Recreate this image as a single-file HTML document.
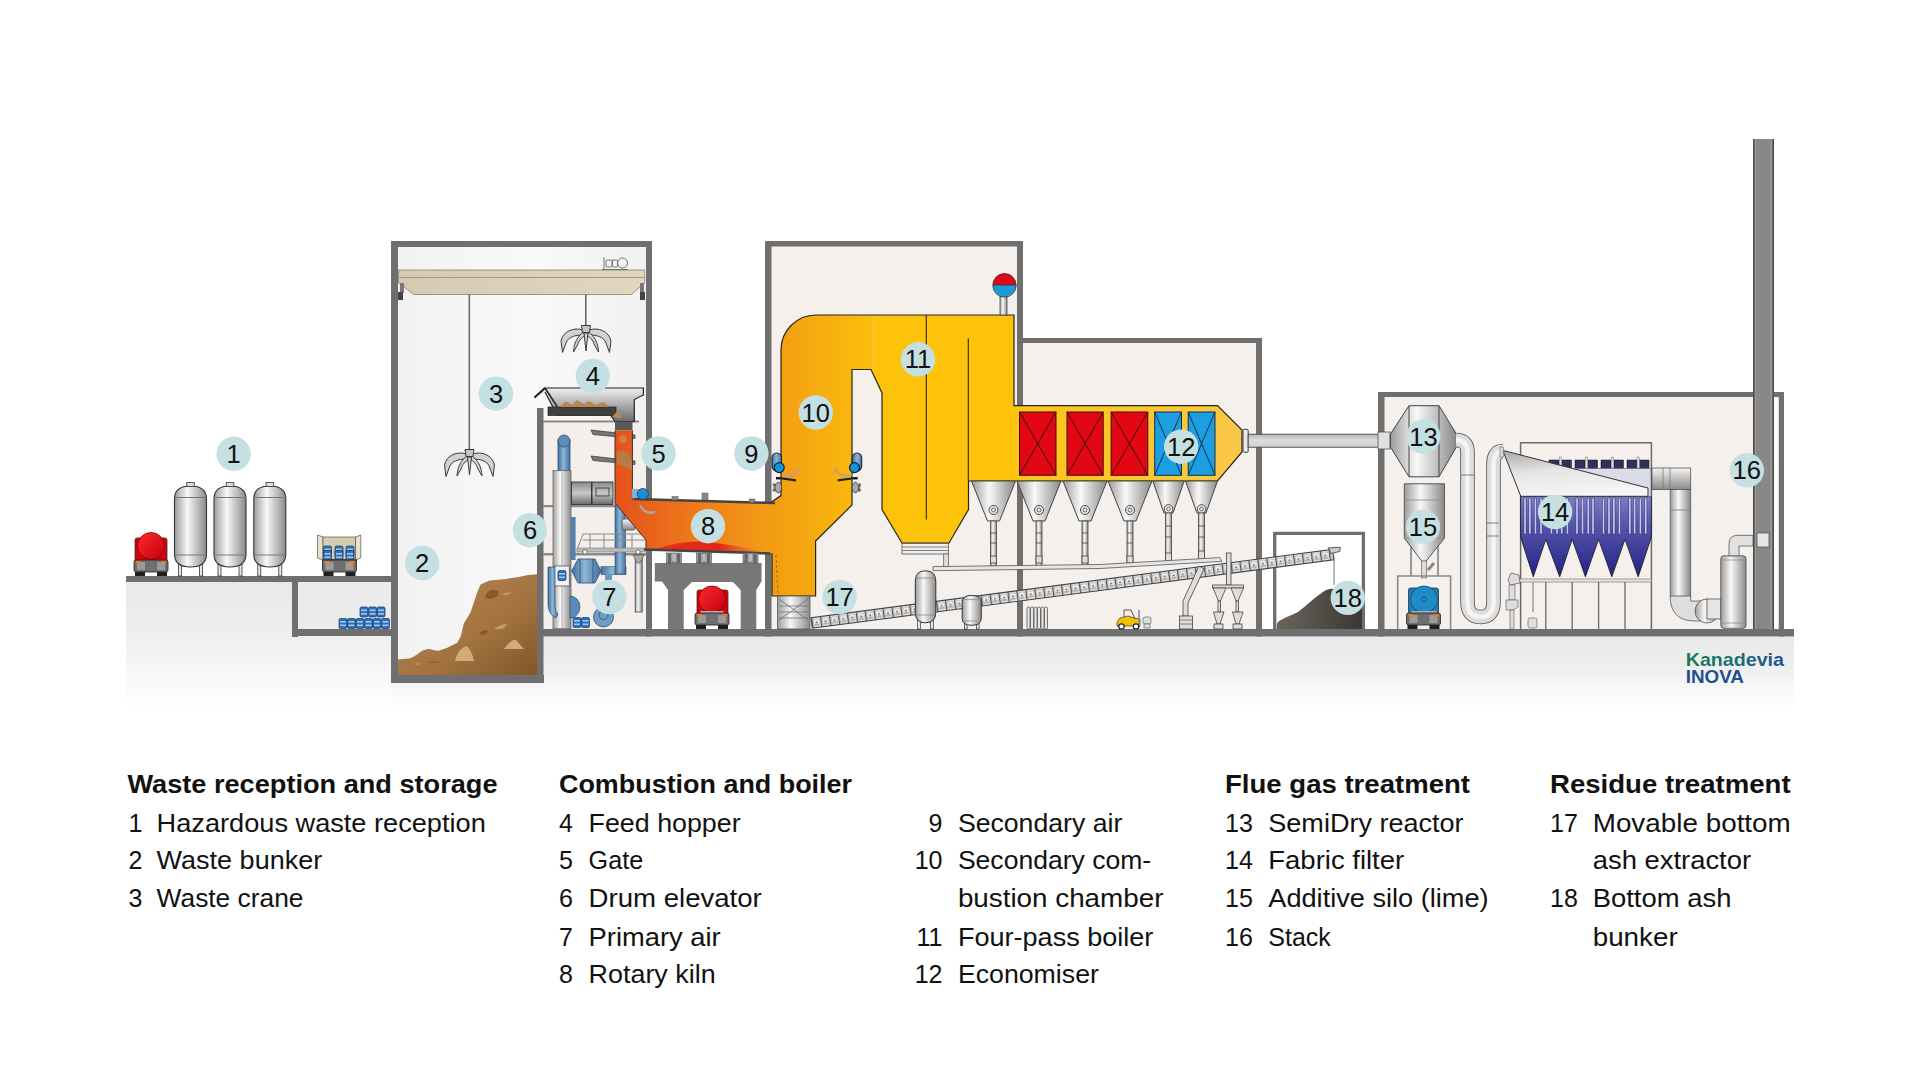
<!DOCTYPE html>
<html><head><meta charset="utf-8">
<style>
html,body{margin:0;padding:0;background:#fff;width:1920px;height:1080px;overflow:hidden}
svg{display:block}
text{font-family:"Liberation Sans",sans-serif;fill:#111}
.b{font-size:25px}
.t{font-size:25px;font-weight:bold}
</style></head><body>
<svg width="1920" height="1080" viewBox="0 0 1920 1080">
<defs>
<linearGradient id="gnd" x1="0" y1="0" x2="0" y2="1">
<stop offset="0" stop-color="#e9e9e9"/><stop offset="0.4" stop-color="#eeeeee"/><stop offset="1" stop-color="#ffffff"/>
</linearGradient>
<linearGradient id="bunk" x1="0" y1="0" x2="1" y2="0">
<stop offset="0" stop-color="#f2f2f2"/><stop offset="0.55" stop-color="#f9f9f9"/><stop offset="1" stop-color="#f1f1f1"/>
</linearGradient>
<linearGradient id="kiln" x1="0" y1="0" x2="1" y2="0">
<stop offset="0" stop-color="#e6501b"/><stop offset="0.5" stop-color="#ee7a1a"/><stop offset="1" stop-color="#f39e16"/>
</linearGradient>
<linearGradient id="glow" x1="0" y1="0" x2="0" y2="1">
<stop offset="0" stop-color="#f07020" stop-opacity="0"/><stop offset="1" stop-color="#e02a1a"/>
</linearGradient>
<linearGradient id="pass1" x1="0" y1="0" x2="1" y2="0">
<stop offset="0" stop-color="#f29b13"/><stop offset="1" stop-color="#fbbf0c"/>
</linearGradient>
<linearGradient id="metal" x1="0" y1="0" x2="1" y2="0">
<stop offset="0" stop-color="#9c9c9c"/><stop offset="0.4" stop-color="#f8f8f8"/><stop offset="1" stop-color="#8a8a8a"/>
</linearGradient>
<linearGradient id="metalv" x1="0" y1="0" x2="0" y2="1">
<stop offset="0" stop-color="#f4f4f4"/><stop offset="1" stop-color="#8a8a8a"/>
</linearGradient>
<linearGradient id="hopg" x1="0" y1="0" x2="0" y2="1">
<stop offset="0" stop-color="#f0f0f0"/><stop offset="1" stop-color="#6a6a6a"/>
</linearGradient>
<linearGradient id="filt" x1="0" y1="0" x2="0" y2="1">
<stop offset="0" stop-color="#7d7dc6"/><stop offset="0.35" stop-color="#5656aa"/><stop offset="1" stop-color="#22228a"/>
</linearGradient>
<linearGradient id="pile" x1="0" y1="0" x2="1" y2="1">
<stop offset="0" stop-color="#b88852"/><stop offset="0.6" stop-color="#a2733f"/><stop offset="1" stop-color="#825628"/>
</linearGradient>
<linearGradient id="ash" x1="0" y1="0" x2="1" y2="0">
<stop offset="0" stop-color="#6b655e"/><stop offset="1" stop-color="#3c3732"/>
</linearGradient>
<linearGradient id="beam" x1="0" y1="0" x2="1" y2="0">
<stop offset="0" stop-color="#d6cab3"/><stop offset="1" stop-color="#e2d6bf"/>
</linearGradient>
<linearGradient id="bluep" x1="0" y1="0" x2="1" y2="0">
<stop offset="0" stop-color="#3f6f9c"/><stop offset="0.45" stop-color="#8fb5d6"/><stop offset="1" stop-color="#40709d"/>
</linearGradient>
<linearGradient id="redt" x1="0" y1="0" x2="1" y2="1">
<stop offset="0" stop-color="#ff2a2a"/><stop offset="1" stop-color="#c00010"/>
</linearGradient>
<linearGradient id="logo" x1="0" y1="0" x2="1" y2="0">
<stop offset="0" stop-color="#177b55"/><stop offset="0.55" stop-color="#1a6d7a"/><stop offset="1" stop-color="#1d4f93"/>
</linearGradient>
<linearGradient id="econ" x1="0" y1="0" x2="1" y2="0"><stop offset="0" stop-color="#fcc414"/><stop offset="1" stop-color="#fac84a"/></linearGradient>
<pattern id="conv" x="0" y="0" width="9" height="10.5" patternUnits="userSpaceOnUse">
<rect width="9" height="10.5" fill="#e9e9e9"/>
<rect x="0" y="0" width="1.3" height="10.5" fill="#555"/>
<rect x="2" y="2" width="6" height="6.5" fill="#f8f8f8" stroke="#888" stroke-width="0.5"/>
<path d="M3.5 6 L5 3.5 L6.5 6 Z" fill="#666"/>
<rect x="3" y="7" width="4" height="0.8" fill="#777"/>
</pattern>
<linearGradient id="hood" x1="0" y1="0" x2="0.3" y2="1"><stop offset="0" stop-color="#a8a8a8"/><stop offset="0.5" stop-color="#e6e6e6"/><stop offset="1" stop-color="#f4f4f4"/></linearGradient>
<linearGradient id="darkm" x1="0" y1="0" x2="0" y2="1"><stop offset="0" stop-color="#8a8a8a"/><stop offset="0.5" stop-color="#c8c8c8"/><stop offset="1" stop-color="#6a6a6a"/></linearGradient>
<linearGradient id="glowh" x1="652" y1="0" x2="772" y2="0" gradientUnits="userSpaceOnUse"><stop offset="0" stop-color="#e4301a"/><stop offset="0.55" stop-color="#e2261a"/><stop offset="0.8" stop-color="#e06a30" stop-opacity="0.7"/><stop offset="1" stop-color="#f0a020" stop-opacity="0"/></linearGradient>
<linearGradient id="duct" x1="0" y1="0" x2="0" y2="1"><stop offset="0" stop-color="#b5b5b5"/><stop offset="0.45" stop-color="#dcdcdc"/><stop offset="1" stop-color="#d2d2d2"/></linearGradient>
<g id="drum">
<rect x="0" y="0" width="8" height="10" rx="1.5" fill="#2f6fb8" stroke="#173a66" stroke-width="0.7"/>
<rect x="1" y="2.5" width="6" height="1.6" fill="#9cc8f0"/>
<rect x="1" y="6" width="6" height="1.6" fill="#9cc8f0"/>
</g>
<g id="tank">
<rect x="-12" y="78" width="3" height="12" fill="#e8e8e8" stroke="#333" stroke-width="0.8"/>
<rect x="9" y="78" width="3" height="12" fill="#e8e8e8" stroke="#333" stroke-width="0.8"/>
<path d="M-16 13 Q-16 0 0 0 Q16 0 16 13 V68 Q16 81 0 81 Q-16 81 -16 68 Z" fill="url(#metal)" stroke="#333" stroke-width="1.1"/>
<line x1="-16" y1="11.5" x2="16" y2="11.5" stroke="#777" stroke-width="1"/>
<line x1="-16" y1="69" x2="16" y2="69" stroke="#777" stroke-width="1"/>
<path d="M-4 -3.5 H4 L3.5 0.5 H-3.5 Z" fill="#ddd" stroke="#333" stroke-width="0.8"/>
</g>
<g id="truckbase">
<rect x="-17" y="-4" width="34" height="12" rx="2" fill="#6f6f6f" stroke="#222" stroke-width="0.8"/>
<rect x="-14" y="-2" width="8" height="8" fill="#9a9a9a"/>
<rect x="6" y="-2" width="8" height="8" fill="#9a9a9a"/>
<rect x="-15" y="-3" width="5" height="2.5" fill="#f07a20"/>
<rect x="10" y="-3" width="5" height="2.5" fill="#f07a20"/>
<rect x="-16" y="8" width="10" height="4" fill="#1f1f1f"/>
<rect x="6" y="8" width="10" height="4" fill="#1f1f1f"/>
</g>
<g id="hopper">
<path d="M-22 0 H22 L6 40 H-6 Z" fill="url(#metal)" stroke="#444" stroke-width="1"/>
<circle cx="0" cy="29" r="4.5" fill="#eee" stroke="#444" stroke-width="1"/>
<circle cx="0" cy="29" r="2" fill="none" stroke="#444" stroke-width="0.8"/>
<rect x="-3" y="40" width="6" height="45" fill="url(#metal)" stroke="#444" stroke-width="0.8"/>
<line x1="-3" y1="52" x2="3" y2="52" stroke="#444" stroke-width="0.8"/>
<line x1="-3" y1="62" x2="3" y2="62" stroke="#444" stroke-width="0.8"/>
<rect x="-3" y="75" width="6" height="7" fill="#ddd" stroke="#444" stroke-width="0.8"/>
</g>
</defs>

<!-- ground fill -->
<rect x="126" y="582" width="266" height="126" fill="url(#gnd)"/>
<rect x="392" y="637" width="1402" height="71" fill="url(#gnd)" />
<rect x="298" y="582" width="94" height="47" fill="#ebebeb"/>

<!-- interiors -->
<path d="M397 247 H646 V421 H537 V675 H397 Z" fill="url(#bunk)"/>
<rect x="543" y="420" width="103" height="209" fill="#f5efeb"/>
<rect x="771" y="246" width="246" height="383" fill="#f5f0ec"/>
<rect x="1023" y="343" width="233" height="286" fill="#f5f0ec"/>
<rect x="1384" y="397" width="394" height="232" fill="#f5f0ec"/>

<!-- bunker pile -->
<path d="M397.5 659.4 L410.6 658.3 L417.2 654.4 C421 651 425 649 428.3 648.9 C432 649 436 651 439.4 650.6 L447.2 647.8 L457.2 642.8 L460.6 636.7 L463.9 623.3 L470.6 612.2 L473.9 602.2 L477.2 592.2 L480.6 584.4 L489.4 580.6 L506.1 578.9 L517.2 577.2 L528.3 575 L537.5 574.2 V675.5 H397.5 Z" fill="url(#pile)"/>
<path d="M485 598 C486 591 492 588 498 591 C500 595 496 598 490 599 Z" fill="#8a5828"/>
<path d="M500 594 L512 592 L507 595 Z" fill="#c9a070"/>
<path d="M455 661 C457 652 462 647 467 646 C471 650 473 656 474 661 Z" fill="#d3aa78"/>
<path d="M504 649 C508 643 513 639 516 640 C519 643 522 647 524 649 Z" fill="#d3aa78"/>
<path d="M494 629 C499 625 506 623 507 625 L503 629 Z" fill="#c49a6a"/>
<path d="M479 634 C482 630 486 629 488 632 L484 635 Z" fill="#8a5828"/>
<path d="M428 663 C432 660 437 660 440 663 Z" fill="#8f6035"/>
<path d="M415 664 L420 663 L418 665 Z" fill="#caa070"/>
<!-- walls -->
<g fill="#6f6f6f">
<rect x="126" y="576" width="272" height="6"/>
<rect x="292" y="576" width="6" height="61"/>
<rect x="292" y="629" width="106" height="7"/>
<rect x="391" y="241" width="261" height="6"/>
<rect x="391" y="241" width="7" height="442"/>
<rect x="391" y="675" width="153" height="8"/>
<rect x="646" y="241" width="6" height="395.5"/>
<rect x="537" y="408" width="6.5" height="275"/>
<rect x="543" y="629" width="1251" height="7.5"/>
<rect x="765" y="241" width="258" height="5.5"/>
<rect x="765" y="241" width="6.5" height="395.5"/>
<rect x="1017" y="241" width="6" height="395.5"/>
<rect x="1017" y="338" width="245" height="5"/>
<rect x="1256" y="338" width="6" height="298.5"/>
<rect x="1378" y="392" width="406" height="5"/>
<rect x="1378" y="392" width="6.5" height="244.5"/>
<rect x="1778.5" y="392" width="5.5" height="244.5"/>
</g>
<path d="M1274.7 630 V533.3 H1363.4 V630" fill="none" stroke="#6f6f6f" stroke-width="3.3"/>
<!-- shelves in feed area -->
<rect x="543" y="420.5" width="96" height="2" fill="#8a8a8a"/>
<rect x="543" y="505" width="72" height="2.2" fill="#8a8a8a"/>
<rect x="543" y="553" width="103" height="2.5" fill="#8a8a8a"/>

<!-- stack -->
<rect x="1774" y="397" width="4.5" height="232" fill="#ffffff"/>
<rect x="1753" y="139" width="21" height="490" fill="#888888"/>
<rect x="1753" y="139" width="1.8" height="490" fill="#4d4d4d"/>
<rect x="1772.2" y="139" width="1.8" height="490" fill="#4d4d4d"/>
<rect x="1754.8" y="139" width="1.2" height="490" fill="#9a9a9a"/>
<rect x="1770.6" y="139" width="1.6" height="490" fill="#9c9c9c"/>

<!-- left exterior: red truck -->
<g>
<rect x="135" y="538" width="32" height="29" rx="2" fill="#d40010" stroke="#333" stroke-width="0.8"/>
<circle cx="151" cy="546" r="13.5" fill="url(#redt)" stroke="#8a0000" stroke-width="0.8"/>
<path d="M139 560 H163 L160 568 H142 Z" fill="#b0b0b0"/>
<use href="#truckbase" x="151" y="564"/>
</g>
<!-- tanks -->
<use href="#tank" x="190.5" y="486"/>
<use href="#tank" x="230" y="486"/>
<use href="#tank" x="269.8" y="486"/>
<!-- beige truck -->
<g>
<path d="M317.5 535 L323 537 V560 L317.5 558 Z" fill="#e8e0cc" stroke="#555" stroke-width="0.7"/>
<path d="M360.8 535 L355.5 537 V560 L360.8 558 Z" fill="#e8e0cc" stroke="#555" stroke-width="0.7"/>
<rect x="323" y="537" width="32.5" height="23" fill="#d8ccb0" stroke="#555" stroke-width="0.7"/>
<use href="#drum" x="323.5" y="546"/>
<use href="#drum" x="335" y="546"/>
<use href="#drum" x="346" y="546"/>
<use href="#drum" x="323.5" y="550.5"/>
<use href="#drum" x="335" y="550.5"/>
<use href="#drum" x="346" y="550.5"/>
<rect x="322" y="559" width="35" height="3" fill="#555"/>
<use href="#truckbase" x="339.5" y="564"/>
</g>
<!-- pit drums -->
<g>
<use href="#drum" x="339" y="618.5"/><use href="#drum" x="347.5" y="618.5"/><use href="#drum" x="356" y="618.5"/>
<use href="#drum" x="364.5" y="618.5"/><use href="#drum" x="373" y="618.5"/><use href="#drum" x="381.5" y="618.5"/>
<use href="#drum" x="360" y="607"/><use href="#drum" x="368.5" y="607"/><use href="#drum" x="377" y="607"/>
</g>

<!-- crane -->
<g>
<path d="M398.5 270 H644.7 V283 L631.5 294.5 H414 L398.5 283 Z" fill="url(#beam)" stroke="#8a8070" stroke-width="0.8"/>
<line x1="398.5" y1="277.5" x2="644.7" y2="277.5" stroke="#a39882" stroke-width="1"/>
<g fill="none" stroke="#666" stroke-width="0.9">
<path d="M604 257 V269"/>
<rect x="606" y="260" width="6" height="7" rx="1"/>
<rect x="612.5" y="260" width="5" height="7" rx="1"/>
<circle cx="622.5" cy="263" r="5"/>
<path d="M602 269.5 H628"/>
</g>
<rect x="400" y="283" width="4" height="10" fill="#777"/>
<rect x="398" y="292" width="5" height="8" fill="#444"/>
<rect x="640" y="283" width="4" height="10" fill="#777"/>
<rect x="640" y="292" width="5" height="8" fill="#444"/>
<line x1="469.3" y1="294.5" x2="469.3" y2="450" stroke="#6a6a6a" stroke-width="1.6"/>
<line x1="585.8" y1="294.5" x2="585.8" y2="326" stroke="#6a6a6a" stroke-width="1.6"/>
</g>
<g id="grab1" fill="#d2d2d2" stroke="#3a3a3a" stroke-width="1" stroke-linejoin="round">
<path d="M583 330 C574 327 563 331 561 341 L562.5 352.5 L566 343 C568 337 575 335 583 335 Z"/>
<path d="M589 330 C598 327 609 331 611 341 L609.5 352.5 L606 343 C604 337 597 335 589 335 Z"/>
<path d="M583.5 332 C578 336 574 342 573.5 352 L577.5 345 C579 340 582 337 585 336 Z"/>
<path d="M588.5 332 C594 336 598 342 598.5 352 L594.5 345 C593 340 590 337 587 336 Z"/>
<path d="M584 333 H588 L586 351 Z"/>
<path d="M581.5 325.5 H590.5 L589.5 332.5 H582.5 Z" fill="#c4c4c4"/>
</g>
<use href="#grab1" x="-116.5" y="124"/>

<!-- hopper & grate -->
<g>
<path d="M534.5 397.5 L545 388 H643.4 V395 L634.3 399.5 V421.5 H615 L610.4 415 H557 L545 392" fill="url(#hopg)" stroke="#222" stroke-width="1.2"/>
<path d="M545 388 L557.2 406.6" stroke="#222" stroke-width="1.6" fill="none"/>
<path d="M534.5 397.5 L545 388" stroke="#222" stroke-width="2" fill="none"/>
<rect x="548" y="407" width="68" height="8.5" fill="#3f3f3f" stroke="#222" stroke-width="0.7"/>
<path d="M560 407 L566 401 L572 405 L577 400 L584 404 L589 401 L596 405 L603 402 L610 407 Z" fill="#b8864f"/>
<path d="M612 417 L618 410 L622 418 Z" fill="#b8864f"/>
<rect x="615" y="421.5" width="17.5" height="9" fill="#5a5a5a"/>
</g>

<!-- feed area machinery -->
<g>
<!-- blue pipe top -->
<rect x="558" y="440" width="12" height="31" fill="url(#bluep)" stroke="#2a4f73" stroke-width="0.8"/>
<circle cx="564" cy="441" r="6" fill="#5c8cb8" stroke="#2a4f73" stroke-width="0.8"/>
<!-- drum elevator column -->
<rect x="553" y="470.7" width="18" height="158" fill="url(#metal)" stroke="#666" stroke-width="0.8"/>
<line x1="562" y1="472" x2="562" y2="628" stroke="#aaa" stroke-width="0.8"/>
<rect x="554.3" y="566" width="15" height="20" fill="#f2f2f2" stroke="#555" stroke-width="0.8"/>
<use href="#drum" x="558" y="570.5"/>
<!-- gray machine -->
<rect x="571.5" y="482" width="20" height="22.5" fill="url(#darkm)" stroke="#222" stroke-width="0.8"/>
<rect x="592" y="482" width="21" height="22.5" fill="url(#darkm)" stroke="#222" stroke-width="0.8"/>
<rect x="596" y="488" width="13" height="8" fill="none" stroke="#333" stroke-width="0.8"/>
<!-- blue pipes -->
<path d="M548 567 H555 V606 Q555 612 558 614 L556 618 Q548 614 548 604 Z" fill="url(#bluep)" stroke="#2a4f73" stroke-width="0.7"/>
<path d="M570 596 A10 11 0 0 1 570 618 Z" fill="#5a8ab8" stroke="#2a4f73" stroke-width="0.7"/>
<rect x="571" y="517" width="4.6" height="43" fill="#5283b0"/>
<path d="M571.7 571 L578 559 H595 L601 571 L595 583 H578 Z" fill="url(#bluep)" stroke="#2a4f73" stroke-width="0.8"/>
<line x1="580" y1="559" x2="580" y2="583" stroke="#2a4f73" stroke-width="0.8"/>
<line x1="593" y1="559" x2="593" y2="583" stroke="#2a4f73" stroke-width="0.8"/>
<rect x="601" y="566.7" width="25" height="7.8" fill="url(#bluep)" stroke="#2a4f73" stroke-width="0.6"/>
<rect x="615" y="504" width="10.5" height="70" fill="url(#bluep)" stroke="#2a4f73" stroke-width="0.6"/>
<rect x="605" y="574" width="7" height="8" fill="#6a96c0"/>
<circle cx="603.5" cy="617" r="10" fill="#6d9cc6" stroke="#2a4f73" stroke-width="0.8"/>
<circle cx="603.5" cy="615" r="4.5" fill="none" stroke="#2a4f73" stroke-width="0.8"/>
<circle cx="582" cy="577" r="12" fill="none"/>

<use href="#drum" x="573" y="617.5"/><use href="#drum" x="581.5" y="617.5"/>
<!-- railing platform -->
<g stroke="#8a8a8a" stroke-width="1" fill="none">
<path d="M577 550 L583 534 H645"/>
<line x1="583" y1="540" x2="645" y2="540"/>
<line x1="590" y1="534" x2="590" y2="550"/>
<line x1="604" y1="534" x2="604" y2="550"/>
<line x1="618" y1="534" x2="618" y2="550"/>
<line x1="632" y1="534" x2="632" y2="550"/>
</g>
<rect x="577" y="548" width="68" height="4" fill="#bbb" stroke="#777" stroke-width="0.6"/>
<circle cx="585" cy="552" r="2.2" fill="#fff" stroke="#555" stroke-width="0.8"/>
<circle cx="638" cy="552" r="2.2" fill="#fff" stroke="#555" stroke-width="0.8"/>
<!-- motor -->
<rect x="622" y="519" width="13" height="11" rx="2" fill="url(#metalv)" stroke="#444" stroke-width="0.8"/>
<!-- gray vertical pipe right -->
<rect x="635.2" y="555" width="7" height="57" fill="url(#metal)" stroke="#444" stroke-width="0.8"/>
<path d="M633 555 H644 L640 563 H637 Z" fill="#aaa" stroke="#444" stroke-width="0.6"/>
<!-- gate arms -->
<path d="M591 430 L635 435 L635 438.5 L593 434.5 Z" fill="#777" stroke="#333" stroke-width="0.7"/>
<path d="M591 456 L635 461 L635 464.5 L593 460.5 Z" fill="#777" stroke="#333" stroke-width="0.7"/>
</g>

<!-- boiler main shape -->
<path id="boilp" d="M781 350 A35 35 0 0 1 816 315 H1014 V405.6 H1217.5 L1242 430 V452 L1217.5 481 H968.5 V509.5 L949 543 H902 L882 509.5 V393 L871 369.5 H852 V505 L815.6 541 V596 H772 V553 H770 V503 L781 495.6 Z" fill="#fcc30a"/>
<path d="M781 350 A35 35 0 0 1 816 315 H873 V369.5 H852 V505 L815.6 541 V596 H772 V553 H770 V503 L781 495.6 Z" fill="url(#pass1)"/>
<path d="M1014.5 406.1 H1217.5 L1241.5 430.2 V451.8 L1217.5 480.5 H1014.5 Z" fill="url(#econ)"/>
<line x1="873" y1="315.5" x2="873" y2="369" stroke="#f8c85a" stroke-width="0.8"/>
<path d="M781 350 A35 35 0 0 1 816 315 H1014 V405.6 H1217.5 L1242 430 V452 L1217.5 481 H968.5 V509.5 L949 543 H902 L882 509.5 V393 L871 369.5 H852 V505 L815.6 541 V596 H772 V553 M770 503 L781 495.6 V350" fill="none" stroke="#262618" stroke-width="1.2"/>
<line x1="926.3" y1="315" x2="926.3" y2="519.6" stroke="#262618" stroke-width="1.1"/>
<line x1="968.3" y1="338.6" x2="968.3" y2="481" stroke="#262618" stroke-width="1.1"/>
<!-- steam drum -->
<rect x="1000" y="296" width="7" height="19" fill="url(#metal)" stroke="#444" stroke-width="0.8"/>
<path d="M992.8 285 A11.7 11.7 0 0 1 1016.2 285 Z" fill="#e30613"/>
<path d="M992.8 285 A11.7 11.7 0 0 0 1016.2 285 Z" fill="#1a9ad6"/>
<circle cx="1004.5" cy="285.5" r="11.7" fill="none" stroke="#333" stroke-width="0.8"/>
<line x1="992.8" y1="285" x2="1016.2" y2="285" stroke="#333" stroke-width="0.8"/>

<!-- kiln -->
<path d="M615 430.5 H632.4 V499 L772 503 V553 L646 549.5 V540 L615 503 Z" fill="url(#kiln)"/>
<path d="M652 550 Q690 538 715 543 Q740 546 772 553 Z" fill="url(#glowh)"/>
<path d="M632.4 430.5 V499 L766 503 M615 430.5 V503 L646 540 V549.5 L770 553" fill="none" stroke="#333" stroke-width="1"/>
<path d="M634 499 L775 503" stroke="#444" stroke-width="2.6"/>
<path d="M644 549.5 L770 553.5" stroke="#444" stroke-width="2.4"/>
<rect x="672" y="496.5" width="6" height="3.5" fill="#888" stroke="#555" stroke-width="0.5"/>
<rect x="702" y="493" width="6" height="7" fill="#888" stroke="#555" stroke-width="0.5"/>
<rect x="749" y="499" width="6" height="3.5" fill="#888" stroke="#555" stroke-width="0.5"/>
<!-- brown waste in chute -->
<path d="M617 452 C624 448 630 452 632 462 L632 470 L617 464 Z" fill="#b08050" opacity="0.85"/>
<circle cx="623" cy="439" r="4" fill="#c9905a" opacity="0.7"/>
<!-- primary air valve -->
<rect x="632" y="489" width="10" height="9" fill="#7fb0d8"/>
<circle cx="642.8" cy="494" r="5.5" fill="#1a8fd6" stroke="#1a3d66" stroke-width="0.8"/>
<path d="M640 505 Q645 515 655 512" fill="none" stroke="#9ab8b8" stroke-width="2.4" opacity="0.8"/>

<!-- kiln support -->
<g fill="#777777">
<path d="M654.8 563 H761.5 V581.5 L756.3 590 V629 H740.7 V590 L733 582 H692 L683.7 590 V629 H668 V590 L662 581.5 H654.8 Z"/>
<rect x="666.5" y="553" width="15" height="10" fill="#9a9a9a" stroke="#555" stroke-width="0.6"/><rect x="668.0" y="553.5" width="3" height="9.5" fill="#666"/><rect x="677.0" y="553.5" width="3" height="9.5" fill="#666"/><rect x="672.5" y="554" width="3" height="7" fill="#bbb"/><rect x="696.5" y="553" width="15" height="10" fill="#9a9a9a" stroke="#555" stroke-width="0.6"/><rect x="698.0" y="553.5" width="3" height="9.5" fill="#666"/><rect x="707.0" y="553.5" width="3" height="9.5" fill="#666"/><rect x="702.5" y="554" width="3" height="7" fill="#bbb"/><rect x="743" y="553" width="15" height="10" fill="#9a9a9a" stroke="#555" stroke-width="0.6"/><rect x="744.5" y="553.5" width="3" height="9.5" fill="#666"/><rect x="753.5" y="553.5" width="3" height="9.5" fill="#666"/><rect x="749" y="554" width="3" height="7" fill="#bbb"/>
</g>
<!-- red truck under kiln -->
<g>
<rect x="697" y="590" width="31" height="26" rx="2" fill="#d40010" stroke="#333" stroke-width="0.8"/>
<circle cx="712" cy="599.5" r="13.5" fill="url(#redt)" stroke="#8a0000" stroke-width="0.8"/>
<path d="M700 611 H724 L721 618 H703 Z" fill="#b0b0b0"/>
<use href="#truckbase" x="712" y="617"/>
</g>

<!-- secondary air burners -->
<g id="burnL">
<rect x="772" y="453" width="9.5" height="18" rx="4.7" fill="url(#bluep)" stroke="#1a2a3a" stroke-width="1.1"/>
<circle cx="779.2" cy="467.6" r="5" fill="#1a8fd6" stroke="#0a2440" stroke-width="1.2"/>
<path d="M782 474.5 Q791 478 798 470.5" fill="none" stroke="#dd9a62" stroke-width="2.6" opacity="0.9"/>
<path d="M795 468 L801 468.5 L798.5 474 Z" fill="#dd9a62" opacity="0.9"/>
<path d="M782 475.5 Q787 478 792 477" fill="none" stroke="#8fc08a" stroke-width="1" opacity="0.8"/>
<path d="M778.5 478 L796 480.3" stroke="#2a2010" stroke-width="2.2"/>
<rect x="776" y="477" width="4" height="2.4" fill="#111"/>
<ellipse cx="778.3" cy="487.5" rx="3.3" ry="5.3" fill="#a8a8a8" stroke="#333" stroke-width="0.8"/>
<path d="M772.5 485 H776 M772.5 490 H776 M774 483 V492" stroke="#333" stroke-width="0.8"/>
</g>
<use href="#burnL" transform="translate(1633.7 0) scale(-1 1)"/>
<!-- dashed line in pass1 lower -->
<path d="M776 555 L778 596" stroke="#a06010" stroke-width="0.8" stroke-dasharray="3 2" fill="none"/>
<!-- ash extractor 17 -->
<g>
<rect x="777.6" y="596" width="32.4" height="33" fill="url(#metal)" stroke="#555" stroke-width="0.8"/>
<path d="M779 599 L808 620 M808 599 L779 620" stroke="#666" stroke-width="0.8"/>
<line x1="779" y1="606" x2="808" y2="606" stroke="#777" stroke-width="0.8"/>
<line x1="779" y1="612" x2="808" y2="612" stroke="#777" stroke-width="0.8"/>
<line x1="779" y1="618" x2="808" y2="618" stroke="#777" stroke-width="0.8"/>
</g>
<!-- pass hopper rings -->
<g>
<rect x="902" y="543.5" width="46.5" height="10.5" fill="#eee" stroke="#555" stroke-width="0.8"/>
<line x1="902" y1="547" x2="948.5" y2="547" stroke="#666" stroke-width="0.8"/>
<line x1="902" y1="550.5" x2="948.5" y2="550.5" stroke="#666" stroke-width="0.8"/>
<rect x="943.7" y="554" width="4.7" height="13" fill="#ddd" stroke="#555" stroke-width="0.7"/>
</g>

<!-- economiser blocks -->
<g stroke="#3a1010" stroke-width="1">
<rect x="1019.5" y="412" width="36.5" height="63.3" fill="#e30613"/>
<path d="M1019.5 412 L1056 475.3 M1056 412 L1019.5 475.3" fill="none"/>
<rect x="1067" y="412" width="36.2" height="63.3" fill="#e30613"/>
<path d="M1067 412 L1103.2 475.3 M1103.2 412 L1067 475.3" fill="none"/>
<rect x="1111.1" y="412" width="36.7" height="63.3" fill="#e30613"/>
<path d="M1111.1 412 L1147.8 475.3 M1147.8 412 L1111.1 475.3" fill="none"/>
</g>
<g stroke="#10304a" stroke-width="1">
<rect x="1154.7" y="412" width="26.8" height="63.3" fill="#1c9ee0"/>
<path d="M1154.7 412 L1181.5 475.3 M1181.5 412 L1154.7 475.3" fill="none"/>
<rect x="1188.2" y="412" width="26.8" height="63.3" fill="#1c9ee0"/>
<path d="M1188.2 412 L1215 475.3 M1215 412 L1188.2 475.3" fill="none"/>
</g>
<!-- flange at econ outlet -->
<rect x="1243" y="429.3" width="5.2" height="23" rx="1.2" fill="#e8e8e8" stroke="#333" stroke-width="0.9"/>

<!-- hoppers -->
<use href="#hopper" x="993.5" y="481"/>
<use href="#hopper" x="1039" y="481"/>
<use href="#hopper" x="1085" y="481"/>
<use href="#hopper" x="1130" y="481"/>
<g transform="translate(1168.5 481)">
<path d="M-15.7 0 H15.7 L4.5 32 H-4.5 Z" fill="url(#metal)" stroke="#444" stroke-width="1"/>
<circle cx="0" cy="28" r="4.3" fill="#eee" stroke="#444" stroke-width="1"/>
<circle cx="0" cy="28" r="1.9" fill="none" stroke="#444" stroke-width="0.8"/>
<rect x="-3" y="32" width="6" height="50" fill="url(#metal)" stroke="#444" stroke-width="0.8"/>
<line x1="-3" y1="45" x2="3" y2="45" stroke="#444" stroke-width="0.8"/>
<line x1="-3" y1="56" x2="3" y2="56" stroke="#444" stroke-width="0.8"/>
<rect x="-3" y="72" width="6" height="8" fill="#ddd" stroke="#444" stroke-width="0.8"/>
</g>
<g transform="translate(1201.5 481)">
<path d="M-16 0 H16 L4.5 32 H-4.5 Z" fill="url(#metal)" stroke="#444" stroke-width="1"/>
<circle cx="0" cy="28" r="4.3" fill="#eee" stroke="#444" stroke-width="1"/>
<circle cx="0" cy="28" r="1.9" fill="none" stroke="#444" stroke-width="0.8"/>
<rect x="-3" y="32" width="6" height="48" fill="url(#metal)" stroke="#444" stroke-width="0.8"/>
<line x1="-3" y1="45" x2="3" y2="45" stroke="#444" stroke-width="0.8"/>
<line x1="-3" y1="56" x2="3" y2="56" stroke="#444" stroke-width="0.8"/>
<rect x="-3" y="70" width="6" height="8" fill="#ddd" stroke="#444" stroke-width="0.8"/>
</g>
<!-- collector pipe -->
<path d="M933 566.6 L1100 564.5 L1220 557.6 L1222 561.3 L1100 568.5 L933 570.7 Z" fill="#e6e6e6" stroke="#555" stroke-width="0.8"/>
<!-- conveyor -->
<g transform="translate(811 617.8) rotate(-7.48)">
<rect x="0" y="0" width="526" height="10.5" fill="url(#conv)"/>
<rect x="0" y="0" width="526" height="10.5" fill="none" stroke="#444" stroke-width="1.1"/>
<path d="M522 -2 L534 -1 L533 3 L524 4 Z" fill="#ccc" stroke="#444" stroke-width="0.8"/>
</g>
<!-- ash drop line -->
<line x1="1334" y1="556" x2="1334" y2="585" stroke="#777" stroke-width="1"/>

<!-- tanks lower -->
<g>
<rect x="917.5" y="618" width="3" height="11" fill="#e6e6e6" stroke="#333" stroke-width="0.7"/>
<rect x="930.5" y="618" width="3" height="11" fill="#e6e6e6" stroke="#333" stroke-width="0.7"/>
<path d="M915.3 581 Q915.3 570.8 925.5 570.8 Q935.8 570.8 935.8 581 V612.5 Q935.8 622.8 925.5 622.8 Q915.3 622.8 915.3 612.5 Z" fill="url(#metal)" stroke="#333" stroke-width="1"/>
<line x1="915.5" y1="578" x2="935.5" y2="578" stroke="#888" stroke-width="0.8"/>
<line x1="915.5" y1="615" x2="935.5" y2="615" stroke="#888" stroke-width="0.8"/>
<rect x="964.5" y="620" width="2.6" height="9" fill="#e6e6e6" stroke="#333" stroke-width="0.7"/>
<rect x="976.5" y="620" width="2.6" height="9" fill="#e6e6e6" stroke="#333" stroke-width="0.7"/>
<path d="M962.2 602 Q962.2 595.4 971.7 595.4 Q981.25 595.4 981.25 602 V618.5 Q981.25 625.3 971.7 625.3 Q962.2 625.3 962.2 618.5 Z" fill="url(#metal)" stroke="#333" stroke-width="1"/>
<line x1="962.4" y1="599.6" x2="981" y2="599.6" stroke="#888" stroke-width="0.8"/>
<line x1="962.4" y1="621" x2="981" y2="621" stroke="#888" stroke-width="0.8"/>
</g>
<!-- radiator -->
<g stroke="#555" stroke-width="0.8" fill="#e8e8e8">
<rect x="1027" y="607" width="3" height="22" rx="1.5"/><rect x="1030.5" y="607" width="3" height="22" rx="1.5"/>
<rect x="1034" y="607" width="3" height="22" rx="1.5"/><rect x="1037.5" y="607" width="3" height="22" rx="1.5"/>
<rect x="1041" y="607" width="3" height="22" rx="1.5"/><rect x="1044.5" y="607" width="3" height="22" rx="1.5"/>
</g>
<!-- forklift -->
<g>
<path d="M1117 622 L1120 618 L1128 616 L1134 618 L1140 619 V626 H1117 Z" fill="#f2c200" stroke="#333" stroke-width="0.7"/>
<path d="M1124 617 V610 H1131 L1135 619" fill="none" stroke="#555" stroke-width="1"/>
<line x1="1139" y1="610" x2="1139" y2="627" stroke="#888" stroke-width="1.5"/>
<circle cx="1121.5" cy="626.5" r="2.7" fill="#fff" stroke="#222" stroke-width="1.2"/>
<circle cx="1136" cy="626.5" r="2.7" fill="#fff" stroke="#222" stroke-width="1.2"/>
<rect x="1143" y="617" width="8" height="7" rx="2" fill="#ddd" stroke="#555" stroke-width="0.6"/>
<rect x="1144" y="624" width="6" height="4" fill="#ddd" stroke="#555" stroke-width="0.6"/>
</g>
<!-- diagonal pipe & box -->
<g>
<path d="M1199 566 L1204 569 L1188 603 V616 H1183 V601 Z" fill="#ddd" stroke="#444" stroke-width="0.8"/>
<rect x="1179.6" y="616" width="13" height="13" fill="#ddd" stroke="#444" stroke-width="0.8"/>
<line x1="1180" y1="620" x2="1192" y2="620" stroke="#444" stroke-width="0.6"/>
<line x1="1180" y1="624" x2="1192" y2="624" stroke="#444" stroke-width="0.6"/>
</g>
<!-- cyclones -->
<g fill="#ddd" stroke="#444" stroke-width="0.8">
<rect x="1226.4" y="553" width="4.6" height="32"/>
<rect x="1212.5" y="585" width="31" height="3"/>
<path d="M1213 588 H1226 L1220.5 601 H1218.5 Z"/>
<path d="M1231 588 H1243.5 L1238 601 H1236 Z"/>
<rect x="1218" y="601" width="2.6" height="11"/><rect x="1236" y="601" width="2.6" height="11"/>
<path d="M1213.5 612 H1224 L1220 624 H1217 Z"/><path d="M1232.5 612 H1243 L1239 624 H1236 Z"/>
<rect x="1214" y="624" width="9" height="5"/><rect x="1233" y="624" width="9" height="5"/>
</g>

<!-- residue bunker ash pile -->
<path d="M1276.5 629 L1277 623 C1282 618 1290 616 1298 612 C1306 606 1316 596 1326 590 C1334 587 1345 590 1352 595 L1362 600 V629 Z" fill="url(#ash)"/>

<!-- duct to reactor -->
<rect x="1248.2" y="434.2" width="141.8" height="13" fill="url(#duct)" stroke="#444" stroke-width="0.9"/>
<rect x="1378" y="432" width="12" height="17" fill="#e0e0e0" stroke="#555" stroke-width="0.8"/>
<!-- reactor 13 -->
<path d="M1390.4 434 L1409 405.7 H1439 L1456.4 434 V447 L1439 476.8 H1409 L1390.4 447 Z" fill="url(#metal)" stroke="#444" stroke-width="1"/>
<line x1="1409" y1="405.7" x2="1409" y2="476.8" stroke="#444" stroke-width="1"/>
<line x1="1439" y1="405.7" x2="1439" y2="476.8" stroke="#444" stroke-width="1"/>
<!-- U pipe -->
<path d="M1456 440 Q1467.5 440 1467.5 452 V602 Q1467.5 617 1480.5 617 Q1493.5 617 1493.5 602 V464 Q1493.5 451 1503 451" fill="none" stroke="#555" stroke-width="14.5"/>
<path d="M1456 440 Q1467.5 440 1467.5 452 V602 Q1467.5 617 1480.5 617 Q1493.5 617 1493.5 602 V464 Q1493.5 451 1503 451" fill="none" stroke="#dcdcdc" stroke-width="12.8"/>
<path d="M1456 440 Q1467.5 440 1467.5 452 V602 Q1467.5 617 1480.5 617 Q1493.5 617 1493.5 602 V464 Q1493.5 451 1503 451" fill="none" stroke="#f4f4f4" stroke-width="4.5"/>
<line x1="1461" y1="475" x2="1474" y2="475" stroke="#666" stroke-width="0.8"/>
<line x1="1487" y1="523" x2="1499" y2="523" stroke="#666" stroke-width="0.8"/>
<line x1="1487" y1="536" x2="1499" y2="536" stroke="#666" stroke-width="0.8"/>

<!-- silo 15 -->
<g>
<rect x="1410" y="538" width="2" height="38" fill="#999"/><rect x="1437" y="538" width="2" height="38" fill="#999"/>
<path d="M1404.3 483.8 H1444.4 V538.2 L1426 561.3 H1422 L1404.3 538.2 Z" fill="url(#metal)" stroke="#555" stroke-width="1"/>
<line x1="1404.3" y1="500" x2="1444.4" y2="500" stroke="#888" stroke-width="0.8"/>
<line x1="1404.3" y1="538" x2="1444.4" y2="538" stroke="#888" stroke-width="0.8"/>
<rect x="1421.5" y="561" width="5" height="17" fill="#ddd" stroke="#555" stroke-width="0.6"/>
<path d="M1428 570 L1434 563" stroke="#888" stroke-width="3"/>
<path d="M1397.7 629 V576 H1450.6 V629" fill="none" stroke="#8a8a8a" stroke-width="1.6"/>
<!-- blue truck -->
<rect x="1408.5" y="588" width="30" height="26" rx="2" fill="#1a7fb8" stroke="#333" stroke-width="0.8"/>
<circle cx="1424" cy="599.5" r="13.5" fill="#1f8cc8" stroke="#134a70" stroke-width="0.8"/>
<circle cx="1424" cy="599.5" r="2.5" fill="none" stroke="#134a70" stroke-width="0.8"/>
<path d="M1411 611 H1437 L1434 618 H1414 Z" fill="#b0b0b0"/>
<use href="#truckbase" x="1423.5" y="617"/>
</g>

<!-- fabric filter frame -->
<path d="M1520.6 629 V442.8 H1651.4 V629" fill="none" stroke="#6a6a6a" stroke-width="1.5"/>
<g stroke="#6a6a6a" stroke-width="1.3">
<line x1="1545.8" y1="581" x2="1545.8" y2="629"/><line x1="1572.2" y1="581" x2="1572.2" y2="629"/>
<line x1="1598.6" y1="581" x2="1598.6" y2="629"/><line x1="1625" y1="581" x2="1625" y2="629"/>
</g>
<path d="M1520.6 496.3 H1651.4 V537 L1638.2 576.8 L1625 539.3 L1611.8 576.8 L1598.6 539.3 L1585.4 576.8 L1572.2 539.3 L1559.7 576.8 L1545.8 539.3 L1533.3 576.8 L1520.6 537 Z" fill="url(#filt)" stroke="#222" stroke-width="0.9"/>
<rect x="1523.9" y="498" width="2.2" height="36" fill="#c8c8f0" stroke="#2c2c70" stroke-width="0.5"/><rect x="1528.8" y="498" width="2.2" height="36" fill="#c8c8f0" stroke="#2c2c70" stroke-width="0.5"/><rect x="1534.3" y="498" width="2.2" height="36" fill="#c8c8f0" stroke="#2c2c70" stroke-width="0.5"/><rect x="1539.9" y="498" width="2.2" height="36" fill="#c8c8f0" stroke="#2c2c70" stroke-width="0.5"/><rect x="1550.3" y="498" width="2.2" height="36" fill="#c8c8f0" stroke="#2c2c70" stroke-width="0.5"/><rect x="1555.9" y="498" width="2.2" height="36" fill="#c8c8f0" stroke="#2c2c70" stroke-width="0.5"/><rect x="1560.7" y="498" width="2.2" height="36" fill="#c8c8f0" stroke="#2c2c70" stroke-width="0.5"/><rect x="1566.3" y="498" width="2.2" height="36" fill="#c8c8f0" stroke="#2c2c70" stroke-width="0.5"/><rect x="1575.9" y="498" width="2.2" height="36" fill="#c8c8f0" stroke="#2c2c70" stroke-width="0.5"/><rect x="1581.5" y="498" width="2.2" height="36" fill="#c8c8f0" stroke="#2c2c70" stroke-width="0.5"/><rect x="1587.1" y="498" width="2.2" height="36" fill="#c8c8f0" stroke="#2c2c70" stroke-width="0.5"/><rect x="1591.9" y="498" width="2.2" height="36" fill="#c8c8f0" stroke="#2c2c70" stroke-width="0.5"/><rect x="1602.4" y="498" width="2.2" height="36" fill="#c8c8f0" stroke="#2c2c70" stroke-width="0.5"/><rect x="1607.9" y="498" width="2.2" height="36" fill="#c8c8f0" stroke="#2c2c70" stroke-width="0.5"/><rect x="1612.8" y="498" width="2.2" height="36" fill="#c8c8f0" stroke="#2c2c70" stroke-width="0.5"/><rect x="1618.3" y="498" width="2.2" height="36" fill="#c8c8f0" stroke="#2c2c70" stroke-width="0.5"/><rect x="1628.8" y="498" width="2.2" height="36" fill="#c8c8f0" stroke="#2c2c70" stroke-width="0.5"/><rect x="1633.6" y="498" width="2.2" height="36" fill="#c8c8f0" stroke="#2c2c70" stroke-width="0.5"/><rect x="1639.2" y="498" width="2.2" height="36" fill="#c8c8f0" stroke="#2c2c70" stroke-width="0.5"/><rect x="1644.7" y="498" width="2.2" height="36" fill="#c8c8f0" stroke="#2c2c70" stroke-width="0.5"/>
<rect x="1549" y="460" width="10" height="8.5" fill="#30305e" stroke="#111" stroke-width="0.5"/><rect x="1562" y="460" width="9.5" height="8.5" fill="#30305e" stroke="#111" stroke-width="0.5"/><rect x="1559.3" y="457" width="2.4" height="11" fill="#ddd" stroke="#666" stroke-width="0.4"/><rect x="1575" y="460" width="10" height="8.5" fill="#30305e" stroke="#111" stroke-width="0.5"/><rect x="1588" y="460" width="9.5" height="8.5" fill="#30305e" stroke="#111" stroke-width="0.5"/><rect x="1585.3" y="457" width="2.4" height="11" fill="#ddd" stroke="#666" stroke-width="0.4"/><rect x="1601" y="460" width="10" height="8.5" fill="#30305e" stroke="#111" stroke-width="0.5"/><rect x="1614" y="460" width="9.5" height="8.5" fill="#30305e" stroke="#111" stroke-width="0.5"/><rect x="1611.3" y="457" width="2.4" height="11" fill="#ddd" stroke="#666" stroke-width="0.4"/><rect x="1627" y="460" width="10" height="8.5" fill="#30305e" stroke="#111" stroke-width="0.5"/><rect x="1639.5" y="460" width="9.5" height="8.5" fill="#30305e" stroke="#111" stroke-width="0.5"/><rect x="1637.0" y="457" width="2.4" height="11" fill="#ddd" stroke="#666" stroke-width="0.4"/>
<rect x="1545" y="468.5" width="106" height="28" fill="#dcdce8" stroke="#555" stroke-width="0.6"/>
<path d="M1502.8 450.4 L1648 488 V496.3 H1520.8 Z" fill="url(#hood)" stroke="#333" stroke-width="1"/>
<rect x="1500" y="447" width="3.5" height="10" fill="#ddd" stroke="#555" stroke-width="0.5"/>
<rect x="1509" y="579" width="142.4" height="3" fill="#e6e6e6" stroke="#666" stroke-width="0.6"/>
<path d="M1508 580 L1511 573 L1519 575 L1520 583 L1510 585 Z" fill="#ddd" stroke="#555" stroke-width="0.7"/>
<rect x="1509" y="585" width="6" height="15" fill="#ddd" stroke="#555" stroke-width="0.6"/>
<path d="M1506 600 H1518 V607 L1513 610 H1506 Z" fill="#ddd" stroke="#555" stroke-width="0.6"/>
<rect x="1510" y="610" width="4" height="19" fill="#ddd" stroke="#555" stroke-width="0.6"/>
<line x1="1533" y1="582" x2="1533" y2="612" stroke="#777" stroke-width="1"/>
<rect x="1528" y="618" width="9" height="10" rx="2" fill="#ddd" stroke="#555" stroke-width="0.6"/>

<!-- outlet duct -->
<rect x="1652" y="468" width="38.7" height="21.5" fill="url(#metalv)" stroke="#555" stroke-width="0.8"/>
<line x1="1663" y1="468" x2="1663" y2="489.5" stroke="#777" stroke-width="0.8"/>
<line x1="1670" y1="468" x2="1670" y2="489.5" stroke="#777" stroke-width="0.8"/>
<rect x="1670.2" y="489.5" width="20.5" height="107" fill="url(#metal)" stroke="#555" stroke-width="0.8"/>
<line x1="1670.2" y1="510" x2="1690.7" y2="510" stroke="#777" stroke-width="0.8"/>
<path d="M1670.2 596 Q1670.2 621 1695 621 H1707 V601 H1690.7 V596 Z" fill="#dedede" stroke="#555" stroke-width="0.8"/>
<circle cx="1707" cy="611" r="12" fill="url(#metal)" stroke="#555" stroke-width="0.8"/>
<rect x="1707" y="599" width="14" height="20" fill="#e6e6e6" stroke="#555" stroke-width="0.8"/>
<!-- silencer -->
<rect x="1720.8" y="555.8" width="25.2" height="72.5" rx="3" fill="url(#metal)" stroke="#555" stroke-width="0.9"/>
<line x1="1721" y1="560" x2="1746" y2="560" stroke="#888" stroke-width="0.7"/>
<line x1="1721" y1="623" x2="1746" y2="623" stroke="#888" stroke-width="0.7"/>
<path d="M1729 555.8 V544 Q1729 535.3 1738 535.3 H1753 V546 H1739 V555.8 Z" fill="#e2e2e2" stroke="#555" stroke-width="0.8"/>
<rect x="1757" y="533" width="12" height="14" fill="#e6e6e6" stroke="#555" stroke-width="0.8"/>

<g id="badges">
<circle cx="233.6" cy="453.8" r="17.2" fill="#c5e0e2"/>
<text x="233.6" y="462.9" text-anchor="middle" style="font-size:25.5px;fill:#111">1</text>
<circle cx="422.2" cy="563" r="17.2" fill="#c5e0e2"/>
<text x="422.2" y="572.1" text-anchor="middle" style="font-size:25.5px;fill:#111">2</text>
<circle cx="496" cy="393.6" r="17.2" fill="#c5e0e2"/>
<text x="496" y="402.7" text-anchor="middle" style="font-size:25.5px;fill:#111">3</text>
<circle cx="592.8" cy="376" r="17.2" fill="#c5e0e2"/>
<text x="592.8" y="385.1" text-anchor="middle" style="font-size:25.5px;fill:#111">4</text>
<circle cx="658.6" cy="453.5" r="17.2" fill="#c5e0e2"/>
<text x="658.6" y="462.6" text-anchor="middle" style="font-size:25.5px;fill:#111">5</text>
<circle cx="530" cy="530.2" r="17.2" fill="#c5e0e2"/>
<text x="530" y="539.3" text-anchor="middle" style="font-size:25.5px;fill:#111">6</text>
<circle cx="609.4" cy="597" r="17.2" fill="#c5e0e2"/>
<text x="609.4" y="606.1" text-anchor="middle" style="font-size:25.5px;fill:#111">7</text>
<circle cx="708" cy="526.2" r="17.2" fill="#c5e0e2"/>
<text x="708" y="535.3" text-anchor="middle" style="font-size:25.5px;fill:#111">8</text>
<circle cx="751.4" cy="453.5" r="17.2" fill="#c5e0e2"/>
<text x="751.4" y="462.6" text-anchor="middle" style="font-size:25.5px;fill:#111">9</text>
<circle cx="815.8" cy="412.5" r="17.2" fill="#c5e0e2"/>
<text x="815.8" y="421.6" text-anchor="middle" style="font-size:25.5px;fill:#111">10</text>
<circle cx="918" cy="359.3" r="17.2" fill="#c5e0e2"/>
<text x="918" y="368.4" text-anchor="middle" style="font-size:25.5px;fill:#111">11</text>
<circle cx="1181.2" cy="446.7" r="17.2" fill="#c5e0e2"/>
<text x="1181.2" y="455.8" text-anchor="middle" style="font-size:25.5px;fill:#111">12</text>
<circle cx="1423.4" cy="436.6" r="17.2" fill="#c5e0e2"/>
<text x="1423.4" y="445.7" text-anchor="middle" style="font-size:25.5px;fill:#111">13</text>
<circle cx="1555.1" cy="512" r="17.2" fill="#c5e0e2"/>
<text x="1555.1" y="521.1" text-anchor="middle" style="font-size:25.5px;fill:#111">14</text>
<circle cx="1423" cy="526.8" r="17.2" fill="#c5e0e2"/>
<text x="1423" y="535.9" text-anchor="middle" style="font-size:25.5px;fill:#111">15</text>
<circle cx="1746.8" cy="470.3" r="17.2" fill="#c5e0e2"/>
<text x="1746.8" y="479.4" text-anchor="middle" style="font-size:25.5px;fill:#111">16</text>
<circle cx="839.6" cy="597" r="17.2" fill="#c5e0e2"/>
<text x="839.6" y="606.1" text-anchor="middle" style="font-size:25.5px;fill:#111">17</text>
<circle cx="1347.8" cy="597.9" r="17.2" fill="#c5e0e2"/>
<text x="1347.8" y="607.0" text-anchor="middle" style="font-size:25.5px;fill:#111">18</text>
</g>
<text x="1685.7" y="665.8" textLength="98.3" lengthAdjust="spacingAndGlyphs" style="font-size:19px;font-weight:bold;fill:url(#logo);stroke:#fff;stroke-width:0.35px;paint-order:stroke">Kanadevia</text>
<text x="1685.7" y="683" textLength="58.3" lengthAdjust="spacingAndGlyphs" style="font-size:18px;font-weight:bold;fill:#1f4f8f">INOVA</text>
<g id="legend">
<text class="t" x="127.5" y="793.4" textLength="370.0" lengthAdjust="spacingAndGlyphs">Waste reception and storage</text>
<text class="b" x="128.5" y="831.9">1</text>
<text class="b" x="156.6" y="831.9" textLength="329.2" lengthAdjust="spacingAndGlyphs">Hazardous waste reception</text>
<text class="b" x="128.5" y="869.4">2</text>
<text class="b" x="156.6" y="869.4" textLength="165.6" lengthAdjust="spacingAndGlyphs">Waste bunker</text>
<text class="b" x="128.5" y="907.3">3</text>
<text class="b" x="156.6" y="907.3" textLength="146.9" lengthAdjust="spacingAndGlyphs">Waste crane</text>
<text class="t" x="559" y="793.4" textLength="293.0" lengthAdjust="spacingAndGlyphs">Combustion and boiler</text>
<text class="b" x="559" y="831.9">4</text>
<text class="b" x="588.6" y="831.9" textLength="152.0" lengthAdjust="spacingAndGlyphs">Feed hopper</text>
<text class="b" x="559" y="869.4">5</text>
<text class="b" x="588.6" y="869.4" textLength="54.6" lengthAdjust="spacingAndGlyphs">Gate</text>
<text class="b" x="559" y="907.3">6</text>
<text class="b" x="588.6" y="907.3" textLength="173.2" lengthAdjust="spacingAndGlyphs">Drum elevator</text>
<text class="b" x="559" y="945.6">7</text>
<text class="b" x="588.6" y="945.6" textLength="132.0" lengthAdjust="spacingAndGlyphs">Primary air</text>
<text class="b" x="559" y="983">8</text>
<text class="b" x="588.6" y="983" textLength="127.0" lengthAdjust="spacingAndGlyphs">Rotary kiln</text>
<text class="b" x="942.5" y="831.9" text-anchor="end">9</text>
<text class="b" x="957.9" y="831.9" textLength="164.4" lengthAdjust="spacingAndGlyphs">Secondary air</text>
<text class="b" x="942.5" y="869.4" text-anchor="end">10</text>
<text class="b" x="957.9" y="869.4" textLength="193.3" lengthAdjust="spacingAndGlyphs">Secondary com-</text>
<text class="b" x="957.9" y="907.3" textLength="205.5" lengthAdjust="spacingAndGlyphs">bustion chamber</text>
<text class="b" x="942.5" y="945.6" text-anchor="end">11</text>
<text class="b" x="957.9" y="945.6" textLength="195.5" lengthAdjust="spacingAndGlyphs">Four-pass boiler</text>
<text class="b" x="942.5" y="983" text-anchor="end">12</text>
<text class="b" x="957.9" y="983" textLength="141.0" lengthAdjust="spacingAndGlyphs">Economiser</text>
<text class="t" x="1225" y="793.4" textLength="245.0" lengthAdjust="spacingAndGlyphs">Flue gas treatment</text>
<text class="b" x="1225" y="831.9">13</text>
<text class="b" x="1268.3" y="831.9" textLength="195.3" lengthAdjust="spacingAndGlyphs">SemiDry reactor</text>
<text class="b" x="1225" y="869.4">14</text>
<text class="b" x="1268.3" y="869.4" textLength="135.9" lengthAdjust="spacingAndGlyphs">Fabric filter</text>
<text class="b" x="1225" y="907.3">15</text>
<text class="b" x="1268.3" y="907.3" textLength="220.3" lengthAdjust="spacingAndGlyphs">Additive silo (lime)</text>
<text class="b" x="1225" y="945.6">16</text>
<text class="b" x="1268.3" y="945.6" textLength="62.5" lengthAdjust="spacingAndGlyphs">Stack</text>
<text class="t" x="1550" y="793.4" textLength="240.6" lengthAdjust="spacingAndGlyphs">Residue treatment</text>
<text class="b" x="1550" y="831.9">17</text>
<text class="b" x="1592.7" y="831.9" textLength="198.1" lengthAdjust="spacingAndGlyphs">Movable bottom</text>
<text class="b" x="1592.7" y="869.4" textLength="158.4" lengthAdjust="spacingAndGlyphs">ash extractor</text>
<text class="b" x="1550" y="907.3">18</text>
<text class="b" x="1592.7" y="907.3" textLength="138.7" lengthAdjust="spacingAndGlyphs">Bottom ash</text>
<text class="b" x="1592.7" y="945.6" textLength="85.0" lengthAdjust="spacingAndGlyphs">bunker</text>
</g>
</svg>
</body></html>
